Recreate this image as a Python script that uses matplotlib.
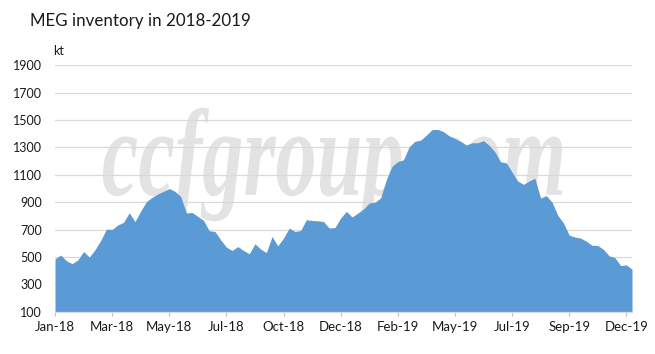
import matplotlib
matplotlib.use("Agg")
import matplotlib.pyplot as plt
import numpy as np
from matplotlib.textpath import TextPath
from matplotlib.font_manager import FontProperties
from matplotlib.patches import PathPatch
from matplotlib.transforms import Affine2D

# weekly MEG port inventory, kt
inventory = [
    486, 514, 472, 451, 478, 540, 499, 553, 620, 703,
    701, 734, 753, 823, 758, 835, 904, 936, 960, 980,
    1000, 979, 942, 821, 825, 796, 767, 691, 686, 625,
    572, 547, 576, 547, 523, 596, 557, 532, 649, 581,
    638, 711, 686, 693, 772, 766, 764, 759, 711, 715,
    784, 833, 792, 820, 850, 894, 899, 931, 1065, 1162,
    1197, 1210, 1305, 1345, 1353, 1390, 1430, 1432, 1415, 1385,
    1365, 1345, 1318, 1334, 1334, 1350, 1315, 1268, 1195, 1187,
    1120, 1055, 1030, 1055, 1075, 930, 948, 900, 805, 748,
    660, 645, 638, 615, 585, 584, 555, 508, 495, 437,
    442, 411,
]
month_labels = ["Jan-18", "Mar-18", "May-18", "Jul-18", "Oct-18", "Dec-18",
                "Feb-19", "May-19", "Jul-19", "Sep-19", "Dec-19"]
label_every = 10
y_ticks = list(range(100, 2000, 200))

plt.rcParams["font.family"] = ["Lato", "DejaVu Sans"]
text_col = "#1a1a1a"
grid_col = "#d9d9d9"

fig = plt.figure(figsize=(6.55, 3.54), dpi=100)
ax = fig.add_axes([55 / 655, 1 - 311.7 / 354, 577 / 655, 246.4 / 354])

x = np.arange(len(inventory))
ax.fill_between(x, inventory, y_ticks[0], color="#5b9bd5", lw=0, zorder=2)

ax.set_xlim(0, len(inventory) - 1)
ax.set_ylim(y_ticks[0], y_ticks[-1])
ax.set_yticks(y_ticks)
ax.set_xticks(x[::label_every])
ax.set_xticklabels(month_labels)

ax.set_axisbelow(True)
ax.yaxis.grid(True, color=grid_col, lw=0.9)
for side in ["top", "right", "left"]:
    ax.spines[side].set_visible(False)
ax.spines["bottom"].set_color(grid_col)
ax.spines["bottom"].set_linewidth(0.9)

ax.tick_params(axis="y", length=0, pad=9.5, labelsize=9, labelcolor=text_col)
ax.tick_params(axis="x", length=3, width=0.8, color="#bfbfbf", pad=3.5,
               labelsize=9.5, labelcolor=text_col)

# stretched watermark behind the grid
fp = FontProperties(family="Liberation Serif", style="italic", weight="bold")
tp = TextPath((0, 0), "ccfgroup.com", size=1, prop=fp)
ext = tp.get_extents()
sx = (0.879 - 0.083) / ext.width
wm_tr = Affine2D().translate(-ext.x0, 0).scale(sx, 0.503).translate(0.083, 0.474) + ax.transAxes
ax.add_patch(PathPatch(tp, facecolor="#e3e3e3", edgecolor="none",
                       transform=wm_tr, zorder=0.2))

fig.text(30 / 655, 1 - 26 / 354, "MEG inventory in 2018-2019", fontsize=12.2,
         va="baseline", color=text_col)
fig.text(53 / 655, 1 - 55 / 354, "kt", fontsize=9, va="baseline", color=text_col)

fig.savefig("out.png", dpi=100)
